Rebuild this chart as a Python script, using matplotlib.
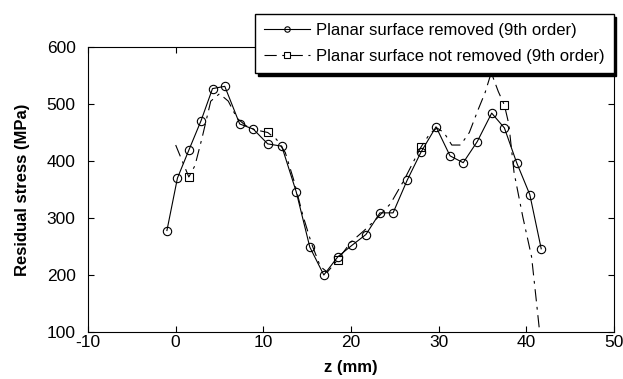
import matplotlib.pyplot as plt

plt.rcParams['font.family'] = ['Liberation Sans', 'DejaVu Sans']
plt.rcParams['axes.unicode_minus'] = False

# measured points, planar surface removed
z_removed = [-1.0, 0.2, 1.5, 2.9, 4.2, 5.6, 7.3, 8.85, 10.5, 12.1, 13.75, 15.3,
             16.9, 18.5, 20.1, 21.7, 23.3, 24.8, 26.4, 28.0, 29.7, 31.3, 32.8,
             34.4, 36.05, 37.5, 38.9, 40.4, 41.7]
s_removed = [278, 370, 419, 471, 527, 531, 465, 456, 430, 426, 346, 249,
             200, 232, 252, 271, 309, 309, 366, 416, 460, 409, 397,
             434, 484, 458, 397, 341, 246]

# 9th order fit, planar surface not removed
z_fit = [0.0, 0.8, 1.5, 2.2, 3.0, 4.0, 5.0, 6.0, 7.0, 8.0, 9.0, 10.5, 11.5,
         12.5, 13.5, 14.5, 15.5, 16.5, 17.3, 18.5, 20.0, 21.5, 23.0, 24.5,
         26.0, 27.0, 28.0, 29.0, 29.8, 30.6, 31.5, 32.5, 33.5, 34.5, 35.3,
         36.0, 36.8, 37.5, 38.0, 38.6, 39.6, 40.6, 41.1, 41.5, 41.9]
s_fit = [428, 398, 372, 392, 440, 505, 518, 505, 475, 462, 455, 450, 438,
         415, 365, 305, 255, 215, 205, 227, 258, 278, 300, 325,
         365, 395, 425, 448, 458, 450, 428, 428, 450, 490, 520,
         555, 522, 498, 465, 380, 302, 232, 161, 103, 40]
fit_markers = [2, 11, 19, 26, 37]

x_ticks = [-10, 0, 10, 20, 30, 40, 50]
y_ticks = [100, 200, 300, 400, 500, 600]

fig = plt.figure(figsize=(6.23, 3.79), dpi=100)
ax = fig.add_axes([0.1413, 0.124, 0.8442, 0.752])

ax.plot(z_removed, s_removed, '-', color='black', lw=0.8, marker='o',
        ms=6, mfc='none', mec='black', mew=0.8,
        label='Planar surface removed (9th order)')
ax.plot(z_fit, s_fit, color='black', lw=0.8, dashes=(11, 5, 2.5, 5),
        marker='s', markevery=fit_markers, ms=6, mfc='none', mec='black',
        mew=0.8, label='Planar surface not removed (9th order)')

ax.set_xlim(-10, 50)
ax.set_ylim(100, 600)
ax.set_xticks(x_ticks)
ax.set_yticks(y_ticks)
ax.tick_params(direction='in', length=4, width=0.8, top=True, right=True,
               labelsize=12.5)
ax.tick_params(axis='y', pad=9)
ax.tick_params(axis='x', pad=2)
for sp in ax.spines.values():
    sp.set_linewidth(0.8)

ax.set_xlabel('z (mm)', fontsize=12, fontweight='bold', labelpad=7)
ax.set_ylabel('Residual stress (MPa)', fontsize=12, fontweight='bold', labelpad=12)

leg = fig.legend(loc='upper left', bbox_to_anchor=(255 / 623, 1 - 14 / 379),
                 borderaxespad=0, fontsize=12, fancybox=False, framealpha=1,
                 edgecolor='black', markerscale=0.65, handlelength=2.75,
                 handletextpad=0.35, labelspacing=0.65, borderpad=0.55,
                 shadow={'color': 'black', 'alpha': 1})
leg.get_frame().set_linewidth(1.0)

fig.savefig('out.png', dpi=100)
